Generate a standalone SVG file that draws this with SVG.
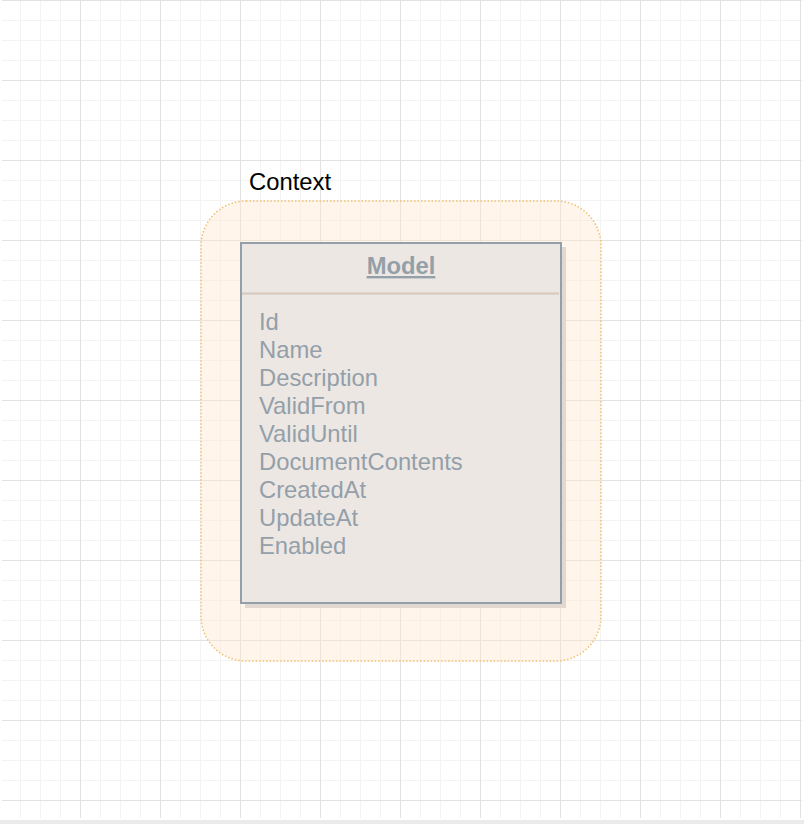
<svg xmlns="http://www.w3.org/2000/svg" width="804" height="824" viewBox="0 0 804 824">
  <defs>
    <pattern id="grid" x="0" y="0" width="80" height="80" patternUnits="userSpaceOnUse">
      <rect x="20" y="0" width="1" height="80" fill="#f3f3f3"/>
      <rect x="40" y="0" width="1" height="80" fill="#f3f3f3"/>
      <rect x="60" y="0" width="1" height="80" fill="#f3f3f3"/>
      <rect x="0" y="20" width="80" height="1" fill="#f3f3f3"/>
      <rect x="0" y="40" width="80" height="1" fill="#f3f3f3"/>
      <rect x="0" y="60" width="80" height="1" fill="#f3f3f3"/>
      <rect x="0" y="0" width="1" height="80" fill="#e2e2e2"/>
      <rect x="0" y="0" width="80" height="1" fill="#e2e2e2"/>
    </pattern>
    <style>
      .label { font-family: "Liberation Sans", Arial, sans-serif; }
      .attr { font-family: "Liberation Sans", Arial, sans-serif; font-size: 23.8px; fill: #939fa9; }
    </style>
  </defs>
  <rect x="0" y="0" width="804" height="824" fill="#ffffff"/>
  <g id="background">
    <rect x="2" y="0" width="800" height="818" fill="url(#grid)"/>
    <rect x="0" y="820" width="804" height="4" fill="#ebebeb"/>
  </g>
  <g id="context">
    <rect x="201" y="201" width="400" height="460" rx="45" ry="45" fill="#ffe6cc" fill-opacity="0.4" stroke="#f0c070" stroke-width="1.5" stroke-dasharray="1.5 2"/>
    <text class="label" x="249" y="190" font-size="23.8" fill="#000000">Context</text>
  </g>
  <g id="model">
    <rect x="245" y="247" width="321" height="361" fill="#e2d8d0"/>
    <rect x="241" y="243" width="320" height="360" fill="#ede7e3" stroke="#939fa9" stroke-width="2"/>
    <line x1="242" y1="293.5" x2="559" y2="293.5" stroke="#d6c8bc" stroke-width="2"/>
    <text class="label" x="401" y="274" font-size="23.8" font-weight="bold" fill="#939fa9" text-anchor="middle" text-decoration="underline">Model</text>
    <text class="attr" x="259" y="330">Id</text>
    <text class="attr" x="259" y="358">Name</text>
    <text class="attr" x="259" y="386">Description</text>
    <text class="attr" x="259" y="414">ValidFrom</text>
    <text class="attr" x="259" y="442">ValidUntil</text>
    <text class="attr" x="259" y="470">DocumentContents</text>
    <text class="attr" x="259" y="498">CreatedAt</text>
    <text class="attr" x="259" y="526">UpdateAt</text>
    <text class="attr" x="259" y="554">Enabled</text>
  </g>
  <g id="connectors"></g>
</svg>
